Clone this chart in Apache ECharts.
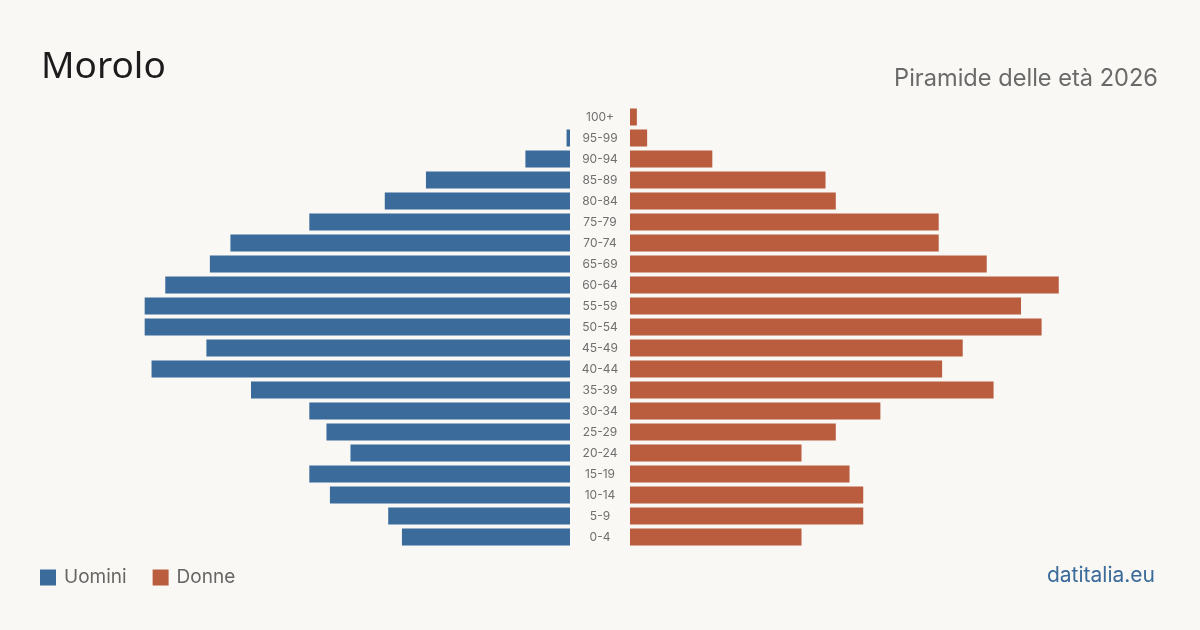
<!DOCTYPE html>
<html>
<head>
<meta charset="utf-8">
<script src="https://cdn.jsdelivr.net/npm/echarts@6/dist/echarts.min.js"></script>
<style>
html,body{margin:0;padding:0;background:#f9f8f4;}
#c{width:1200px;height:630px;}
</style>
</head>
<body>
<div id="c"></div>
<script>
const ageGroups = ['0-4','5-9','10-14','15-19','20-24','25-29','30-34','35-39','40-44','45-49','50-54','55-59','60-64','65-69','70-74','75-79','80-84','85-89','90-94','95-99','100+'];
const men   = [49,53,70,76,64,71,76,93,122,106,124,124,118,105,99,76,54,42,13,1,0];
const women = [50,68,68,64,50,60,73,106,91,97,120,114,125,104,90,90,60,57,24,5,2];
const titleText = 'Morolo';
const subtitleText = 'Piramide delle età 2026';
const sourceText = 'datitalia.eu';
const seriesNames = ['Uomini','Donne'];

const BLUE = '#3b6b9b', ORANGE = '#ba5c3e';
const MAXV = 125;
const W = 428.75;

const chart = echarts.init(document.getElementById('c'), null, {renderer:'canvas'});
chart.setOption({
  backgroundColor:'#f9f8f4',
  animation:false,
  textStyle:{fontFamily:'Inter, "Noto Sans", sans-serif'},
  title:[
    {text:titleText,left:36,top:44,textStyle:{fontSize:37,fontWeight:'normal',color:'#1c1c1c',fontFamily:'"Noto Sans", Inter, sans-serif'}},
    {text:subtitleText,right:37,top:62,textStyle:{fontSize:23.6,fontWeight:'normal',color:'#6a6a6a'}},
    {text:sourceText,right:40,top:560,textStyle:{fontSize:21,fontWeight:'normal',color:BLUE}}
  ],
  legend:{
    left:35, top:563, icon:'rect', itemWidth:16, itemHeight:16, itemGap:26,
    textStyle:{fontSize:19,color:'#666',padding:[0,0,0,3]},
    data:seriesNames, selectedMode:false
  },
  grid:[
    {left:570-W, width:W, top:106.5, height:441},
    {left:630, width:W, top:106.5, height:441}
  ],
  xAxis:[
    {gridIndex:0,type:'value',inverse:true,min:0,max:MAXV,show:false},
    {gridIndex:1,type:'value',min:0,max:MAXV,show:false}
  ],
  yAxis:[
    {gridIndex:0,type:'category',data:ageGroups,show:false},
    {gridIndex:1,type:'category',data:ageGroups,position:'left',
     axisLine:{show:false},axisTick:{show:false},
     axisLabel:{margin:30,align:'center',fontSize:12,color:'#6f6f6f'}}
  ],
  series:[
    {name:seriesNames[0],type:'bar',xAxisIndex:0,yAxisIndex:0,data:men,barWidth:17,itemStyle:{color:BLUE}},
    {name:seriesNames[1],type:'bar',xAxisIndex:1,yAxisIndex:1,data:women,barWidth:17,itemStyle:{color:ORANGE}}
  ]
});
</script>
</body>
</html>
